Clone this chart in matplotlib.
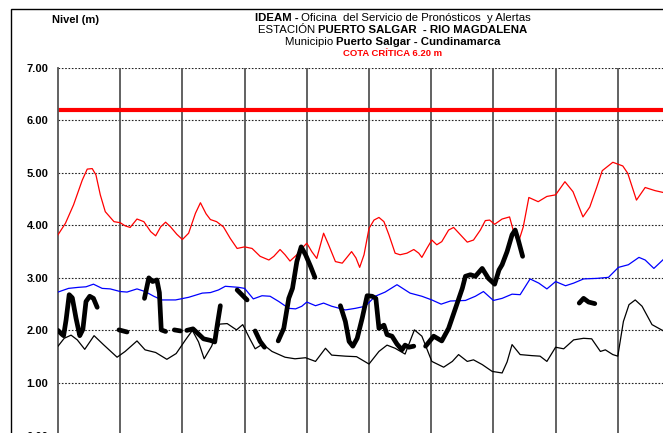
import numpy as np
import matplotlib
matplotlib.use("Agg")
import matplotlib.pyplot as plt
from matplotlib.patches import Rectangle

plt.rcParams['font.family'] = ['Liberation Sans', 'DejaVu Sans']

W, H = 663, 433

# datos (x en divisiones de la grilla vertical, nivel en m)
cota_critica = 6.20
y_ticks = [0, 1, 2, 3, 4, 5, 6, 7]

red_x = [0.00, 0.12, 0.25, 0.39, 0.47, 0.55, 0.61, 0.68, 0.76, 0.90, 1.00, 1.08, 1.16, 1.27, 1.38,
         1.49, 1.57, 1.65, 1.73, 1.81, 1.91, 2.00, 2.10, 2.21, 2.29, 2.38, 2.45, 2.55, 2.66, 2.77,
         2.88, 3.00, 3.12, 3.25, 3.39, 3.47, 3.57, 3.65, 3.73, 3.84, 3.92, 4.00, 4.08, 4.16, 4.27,
         4.35, 4.46, 4.57, 4.72, 4.79, 4.85, 4.92, 5.00, 5.08, 5.16, 5.24, 5.32, 5.42, 5.50, 5.61,
         5.72, 5.80, 5.85, 5.93, 6.01, 6.09, 6.17, 6.28, 6.36, 6.47, 6.58, 6.68, 6.79, 6.87, 6.94,
         7.02, 7.14, 7.26, 7.32, 7.40, 7.48, 7.57, 7.72, 7.86, 8.00, 8.15, 8.28, 8.44, 8.55, 8.66,
         8.75, 8.92, 9.08, 9.16, 9.30, 9.44, 9.60, 9.75]
red_y = [3.82, 4.04, 4.39, 4.86, 5.07, 5.08, 4.96, 4.58, 4.26, 4.07, 4.05, 3.99, 3.96, 4.12, 4.07,
         3.88, 3.80, 3.97, 4.06, 3.97, 3.83, 3.73, 3.85, 4.23, 4.43, 4.22, 4.11, 4.07, 3.97, 3.75,
         3.56, 3.59, 3.56, 3.41, 3.34, 3.41, 3.54, 3.44, 3.32, 3.44, 3.56, 3.66, 3.50, 3.37, 3.85,
         3.63, 3.31, 3.28, 3.50, 3.38, 3.20, 3.44, 3.94, 4.10, 4.15, 4.07, 3.82, 3.47, 3.44, 3.47,
         3.54, 3.47, 3.39, 3.56, 3.72, 3.63, 3.69, 3.91, 3.96, 3.82, 3.68, 3.72, 3.91, 4.09, 4.10,
         4.02, 4.12, 4.16, 3.90, 3.67, 3.97, 4.53, 4.45, 4.55, 4.58, 4.83, 4.64, 4.16, 4.35, 4.72,
         5.04, 5.20, 5.13, 4.99, 4.48, 4.72, 4.66, 4.62]

blue_x = [0.00, 0.17, 0.33, 0.45, 0.57, 0.71, 0.84, 1.00, 1.11, 1.27, 1.40, 1.54, 1.67, 1.89, 2.10,
          2.32, 2.45, 2.58, 2.69, 2.90, 3.00, 3.14, 3.28, 3.41, 3.55, 3.71, 3.82, 3.92, 4.00, 4.14,
          4.27, 4.40, 4.62, 4.78, 4.94, 5.10, 5.26, 5.45, 5.66, 5.85, 6.01, 6.16, 6.31, 6.55, 6.71,
          6.84, 7.00, 7.14, 7.30, 7.43, 7.59, 7.73, 7.86, 8.00, 8.16, 8.29, 8.45, 8.66, 8.85, 9.01,
          9.17, 9.34, 9.44, 9.58, 9.75]
blue_y = [2.73, 2.80, 2.82, 2.83, 2.88, 2.80, 2.79, 2.74, 2.73, 2.79, 2.74, 2.65, 2.58, 2.58, 2.63,
          2.71, 2.72, 2.77, 2.84, 2.82, 2.80, 2.60, 2.66, 2.65, 2.55, 2.42, 2.41, 2.46, 2.54, 2.47,
          2.52, 2.46, 2.39, 2.42, 2.46, 2.65, 2.73, 2.87, 2.71, 2.65, 2.58, 2.50, 2.56, 2.57, 2.65,
          2.74, 2.57, 2.61, 2.69, 2.68, 2.98, 2.90, 2.79, 2.93, 2.85, 2.90, 2.98, 2.99, 3.01, 3.20,
          3.25, 3.39, 3.34, 3.18, 3.37]

min_x = [0.00, 0.10, 0.21, 0.31, 0.43, 0.58, 0.73, 0.95, 1.08, 1.27, 1.40, 1.57, 1.75, 1.90, 2.05,
         2.16, 2.26, 2.35, 2.47, 2.60, 2.72, 2.87, 2.97, 3.08, 3.17, 3.29, 3.44, 3.65, 3.81, 3.98,
         4.14, 4.30, 4.40, 4.62, 4.80, 5.00, 5.16, 5.29, 5.42, 5.58, 5.73, 5.85, 6.01, 6.20, 6.34,
         6.44, 6.58, 6.68, 6.82, 6.98, 7.14, 7.22, 7.30, 7.43, 7.62, 7.75, 7.86, 8.00, 8.13, 8.29,
         8.45, 8.58, 8.72, 8.80, 8.92, 9.00, 9.09, 9.18, 9.28, 9.39, 9.55, 9.75]
min_y = [1.70, 1.85, 1.91, 1.82, 1.64, 1.90, 1.73, 1.49, 1.60, 1.80, 1.63, 1.58, 1.45, 1.56, 1.82,
         2.00, 1.78, 1.46, 1.70, 2.12, 2.13, 2.01, 2.11, 1.85, 1.65, 1.74, 1.60, 1.49, 1.46, 1.48,
         1.41, 1.66, 1.53, 1.51, 1.50, 1.36, 1.60, 1.72, 1.66, 1.55, 2.01, 1.89, 1.41, 1.30, 1.41,
         1.54, 1.41, 1.44, 1.35, 1.22, 1.19, 1.40, 1.73, 1.54, 1.52, 1.51, 1.41, 1.68, 1.65, 1.82,
         1.85, 1.84, 1.60, 1.63, 1.54, 1.51, 2.17, 2.49, 2.58, 2.46, 2.11, 1.98]

# niveles observados (nan = sin dato)
nan = np.nan
obs_x = [0.00, 0.06, 0.09, 0.13, 0.18, 0.23, 0.29, 0.35, 0.40, 0.45, 0.51, 0.57, 0.63, 0.80,
         0.98, 1.11, 1.25,
         1.39, 1.46, 1.52, 1.59, 1.63, 1.66, 1.73, 1.80,
         1.87, 1.97, 2.02,
         2.07, 2.17, 2.26, 2.34, 2.45, 2.52, 2.56, 2.61, 2.75,
         2.88, 3.04, 3.10,
         3.17, 3.25, 3.32, 3.45,
         3.54, 3.63, 3.71, 3.77, 3.84, 3.91, 3.98, 4.06, 4.13, 4.30,
         4.54, 4.62, 4.68, 4.74, 4.81, 4.89, 4.97, 5.05, 5.11, 5.16, 5.24, 5.29, 5.37, 5.45,
         5.53, 5.58, 5.64, 5.72, 5.80,
         5.91, 6.04, 6.17, 6.28, 6.39, 6.50, 6.55, 6.63, 6.71, 6.82, 6.92, 7.02, 7.09, 7.14,
         7.22, 7.30, 7.35, 7.40, 7.47, 8.00,
         8.38, 8.45, 8.53, 8.63]
obs_y = [2.00, 1.93, 1.90, 2.20, 2.68, 2.62, 2.23, 1.90, 2.02, 2.55, 2.65, 2.61, 2.44, nan,
         2.01, 1.97, nan,
         2.61, 3.00, 2.93, 2.96, 2.72, 2.01, 1.98, nan,
         2.01, 1.99, nan,
         2.00, 2.03, 1.93, 1.84, 1.81, 1.78, 2.10, 2.47, nan,
         2.77, 2.58, nan,
         1.99, 1.79, 1.68, nan,
         1.80, 2.04, 2.61, 2.80, 3.31, 3.59, 3.44, 3.22, 3.01, nan,
         2.47, 2.17, 1.79, 1.70, 1.85, 2.23, 2.66, 2.65, 2.61, 2.04, 2.10, 1.92, 1.89, 1.74,
         1.63, 1.72, 1.68, 1.70, nan,
         1.70, 1.89, 1.80, 2.04, 2.42, 2.80, 3.03, 3.06, 3.03, 3.18, 2.99, 2.88, 3.15, 3.25,
         3.50, 3.82, 3.91, 3.72, 3.41, nan,
         2.52, 2.61, 2.54, 2.51]

fig = plt.figure(figsize=(W / 100, H / 100), dpi=100)
fig.patch.set_facecolor('white')

# marco exterior
fig.patches.append(Rectangle((10.5 / W, -0.1), 2.0, (H - 9.5) / H + 0.1,
                             transform=fig.transFigure, fill=False, lw=1.0, ec='black'))

ax = fig.add_axes([58 / W, -2.5 / H, 622 / W, (435.5 - 67.7) / H])
ax.set_xlim(0, 10)
ax.set_ylim(0, 7)

for v in y_ticks[1:]:
    ax.axhline(v, color='#222222', lw=0.8, ls=(0, (1.5, 1.5)), zorder=1)
for xv in range(1, 10):
    ax.axvline(xv, color='#555555', lw=1.3, zorder=1)

ax.axhline(cota_critica, color='#ff0000', lw=3.0, zorder=2)
ax.plot(red_x, red_y, color='#ff0000', lw=0.9, zorder=3)
ax.plot(blue_x, blue_y, color='#0000ff', lw=0.9, zorder=3)
ax.plot(min_x, min_y, color='black', lw=0.9, zorder=3)
ax.plot(obs_x, obs_y, color='black', lw=3.4, solid_capstyle='round',
        solid_joinstyle='round', zorder=4)

ax.set_yticks(y_ticks)
ax.set_yticklabels([f"{v:.2f}" for v in y_ticks], fontsize=8, fontweight='bold')
ax.tick_params(axis='y', length=0, pad=7)
ax.set_xticks([])
for s in ['top', 'right', 'bottom']:
    ax.spines[s].set_visible(False)
ax.spines['left'].set_color('#555555')
ax.spines['left'].set_linewidth(1.3)

fig.text(52 / W, 1 - 20 / H, "Nivel (m)", fontsize=8, fontweight='bold', va='center', ha='left')

renderer = fig.canvas.get_renderer()


def mixed_line(parts, xc, yc, size, color='black'):
    texts = [fig.text(0, 1 - yc / H, s, fontsize=size, fontweight=w, color=color,
                      va='center', ha='left') for s, w in parts]
    widths = [t.get_window_extent(renderer).width for t in texts]
    x = xc - sum(widths) / 2
    for t, w in zip(texts, widths):
        t.set_x(x / W)
        x += w


mixed_line([("IDEAM -", 'bold'), (" Oficina  del Servicio de Pronósticos  y Alertas", 'normal')],
           393, 18, 8.2)
mixed_line([("ESTACIÓN ", 'normal'), ("PUERTO SALGAR  - RIO MAGDALENA", 'bold')], 393, 30, 8.2)
mixed_line([("Municipio ", 'normal'), ("Puerto Salgar - Cundinamarca", 'bold')], 393, 42, 8.2)
mixed_line([("COTA CRÍTICA 6.20 m", 'bold')], 393, 53, 6.8, color='#ff0000')

fig.savefig("out.png", dpi=100)
